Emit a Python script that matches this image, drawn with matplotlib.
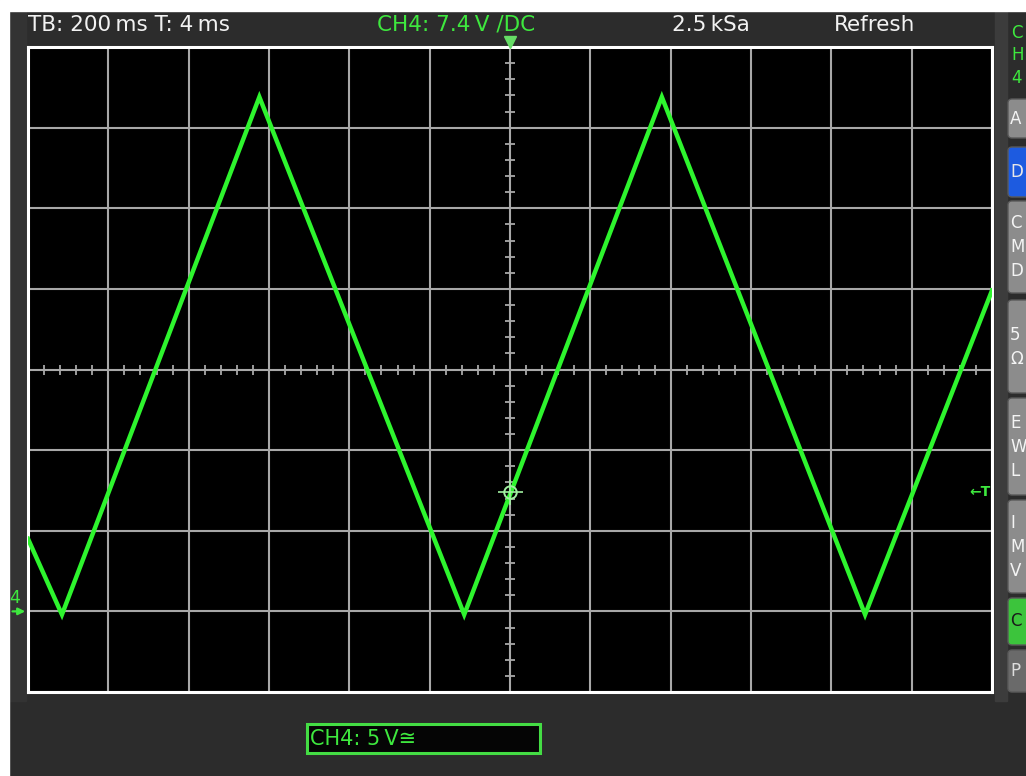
import matplotlib
matplotlib.use('Agg')
import matplotlib.pyplot as plt
import matplotlib.transforms as mtransforms
from matplotlib.patches import Rectangle, FancyBboxPatch
import numpy as np

# ---------------- data ----------------
time_s = [-1.2, -1.1155, -0.624, -0.114, 0.378, 0.884, 1.2]     # vertex times (s)
volts = [4.5, -0.2, 31.9, -0.2, 31.9, -0.2, 19.9]               # vertex voltages (V)
timebase = 0.2          # s/div
volt_div = 5.0          # V/div
x_divs = 12
y_divs = 8
t_center = 0.0
v_center = 15.0         # volts at screen centre
ground_level = 0.0
trigger_level = 7.4

status_left = "TB: 200\u2009ms T: 4\u2009ms"
status_ch = "CH4: 7.4\u2009V /DC"
status_rate = "2.5\u2009kSa"
status_mode = "Refresh"
channel_label = "CH4: 5\u2009V\u2245"
side_top = ["C", "H", "4"]
side_buttons = [["A"], ["D"], ["C", "M", "D"], ["5", "\u03a9"], ["E", "W", "L"],
                ["I", "M", "V"], ["C"], ["P"]]

# ---------------- figure ----------------
W, H = 1026, 776
fig = plt.figure(figsize=(W / 100, H / 100), dpi=100, facecolor='#2c2c2c')
bg = fig.add_axes([0, 0, 1, 1])
bg.set_xlim(0, W)
bg.set_ylim(H, 0)
bg.axis('off')

GREEN = '#3ee83e'
TRACE = '#2ef52e'
FONT = 'DejaVu Sans'

# white page margins
bg.add_patch(Rectangle((0, 0), W, 10.5, color='white', zorder=1))
bg.add_patch(Rectangle((0, 0), 9, H, color='white', zorder=1))
# side strips
bg.add_patch(Rectangle((9, 10.5), 17, 690, color='#333333', zorder=0.5))
bg.add_patch(Rectangle((995, 10.5), 12, 690, color='#3c3c3c', zorder=0.5))

# status line
ty = 25
bg.text(28, ty, status_left, color='#f2f2f2', fontsize=15.5, family=FONT, va='center', ha='left')
bg.text(377, ty, status_ch, color=GREEN, fontsize=15.5, family=FONT, va='center', ha='left')
bg.text(672, ty, status_rate, color='#f2f2f2', fontsize=15.5, family=FONT, va='center', ha='left')
bg.text(834, ty, status_mode, color='#f2f2f2', fontsize=15.5, family=FONT, va='center', ha='left')

# right side panel (cut off in the original)
for i, s in enumerate(side_top):
    bg.text(1011, 33 + i * 22.5, s, color=GREEN, fontsize=12, family=FONT, va='center', ha='left')

btn_spans = [(99, 138), (147, 197), (201, 293), (300, 393), (398, 495), (500, 593), (598, 645), (650, 692)]
for idx, ((y0, y1), letters) in enumerate(zip(btn_spans, side_buttons)):
    if idx == 1:
        fc, tc = '#1d5be0', '#e8e8e8'
    elif idx == 6:
        fc, tc = '#3cc43c', '#1a1a1a'
    elif idx == 7:
        fc, tc = '#6a6a6a', '#dddddd'
    else:
        fc, tc = '#8c8c8c', '#f4f4f4'
    bg.add_patch(FancyBboxPatch((1008, y0), 30, y1 - y0,
                                boxstyle='round,pad=0,rounding_size=4',
                                facecolor=fc, edgecolor='#5a5a5a', lw=1, zorder=2))
    n = len(letters)
    cy = (y0 + y1) / 2
    for j, s in enumerate(letters):
        yy = cy + (j - (n - 1) / 2) * 24
        bg.text(1010, yy, s, color=tc, fontsize=12, family=FONT, va='center', ha='left', zorder=3)

# bottom channel box
bg.add_patch(Rectangle((307, 724), 233, 29, facecolor='#050505', edgecolor='#44dd44', lw=2.2, zorder=2))
bg.text(310, 739, channel_label, color=GREEN, fontsize=15, family=FONT, va='center', ha='left', zorder=3)

# ---------------- scope screen ----------------
left, right, top, bottom = 28, 992, 47, 692
ax = fig.add_axes([left / W, 1 - bottom / H, (right - left) / W, (bottom - top) / H])
ax.set_facecolor('black')
t_half = timebase * x_divs / 2
v_half = volt_div * y_divs / 2
ax.set_xlim(t_center - t_half, t_center + t_half)
ax.set_ylim(v_center - v_half, v_center + v_half)
ax.set_xticks(np.linspace(t_center - t_half, t_center + t_half, x_divs + 1))
ax.set_yticks(np.linspace(v_center - v_half, v_center + v_half, y_divs + 1))
ax.tick_params(length=0, labelbottom=False, labelleft=False)
ax.grid(True, color='#a8a8a8', lw=1.5)
ax.set_axisbelow(True)
for sp in ax.spines.values():
    sp.set_color('white')
    sp.set_linewidth(2.2)

# centre-line sub-division ticks
sub_t = np.arange(t_center - t_half, t_center + t_half + 1e-9, timebase / 5)
sub_v = np.arange(v_center - v_half, v_center + v_half + 1e-9, volt_div / 5)
ax.plot(sub_t, np.full_like(sub_t, v_center), ls='none', marker='|', ms=7, mew=1.3, color='#a8a8a8', zorder=1.5)
ax.plot(np.full_like(sub_v, t_center), sub_v, ls='none', marker='_', ms=7, mew=1.3, color='#a8a8a8', zorder=1.5)

# trace
ax.plot(time_s, volts, color=TRACE, lw=3.2, solid_joinstyle='miter', zorder=3)

# trigger point crosshair
ax.plot([t_center], [trigger_level], marker='o', ms=9, mfc='none', mec='#a0f0a0', mew=1.4, zorder=4)
ax.plot([t_center], [trigger_level], marker='+', ms=18, mec='#a0f0a0', mew=1.2, zorder=4)

# trigger level marker
ax.text(t_center + t_half * 0.997, trigger_level, '\u2190T', color=GREEN, fontsize=10,
        fontweight='bold', family=FONT, ha='right', va='center', zorder=4)

# ground marker (channel 4)
trans_g = mtransforms.blended_transform_factory(ax.transAxes, ax.transData)
ax.annotate('', xy=(0.0, ground_level), xycoords=trans_g,
            xytext=(-0.019, ground_level), textcoords=trans_g,
            arrowprops=dict(arrowstyle='-|>', color=GREEN, lw=1.6, mutation_scale=10),
            annotation_clip=False)
ax.text(-0.019, ground_level + 0.3, '4', transform=trans_g, color=GREEN, fontsize=12.5,
        family=FONT, ha='left', va='bottom', clip_on=False)

# trigger position marker on top
trans_t = mtransforms.blended_transform_factory(ax.transData, ax.transAxes)
ax.plot([t_center], [1.008], transform=trans_t, marker='v', ms=8, color='#66dd66',
        clip_on=False, zorder=5)

fig.savefig('out.png', dpi=100, facecolor=fig.get_facecolor())
